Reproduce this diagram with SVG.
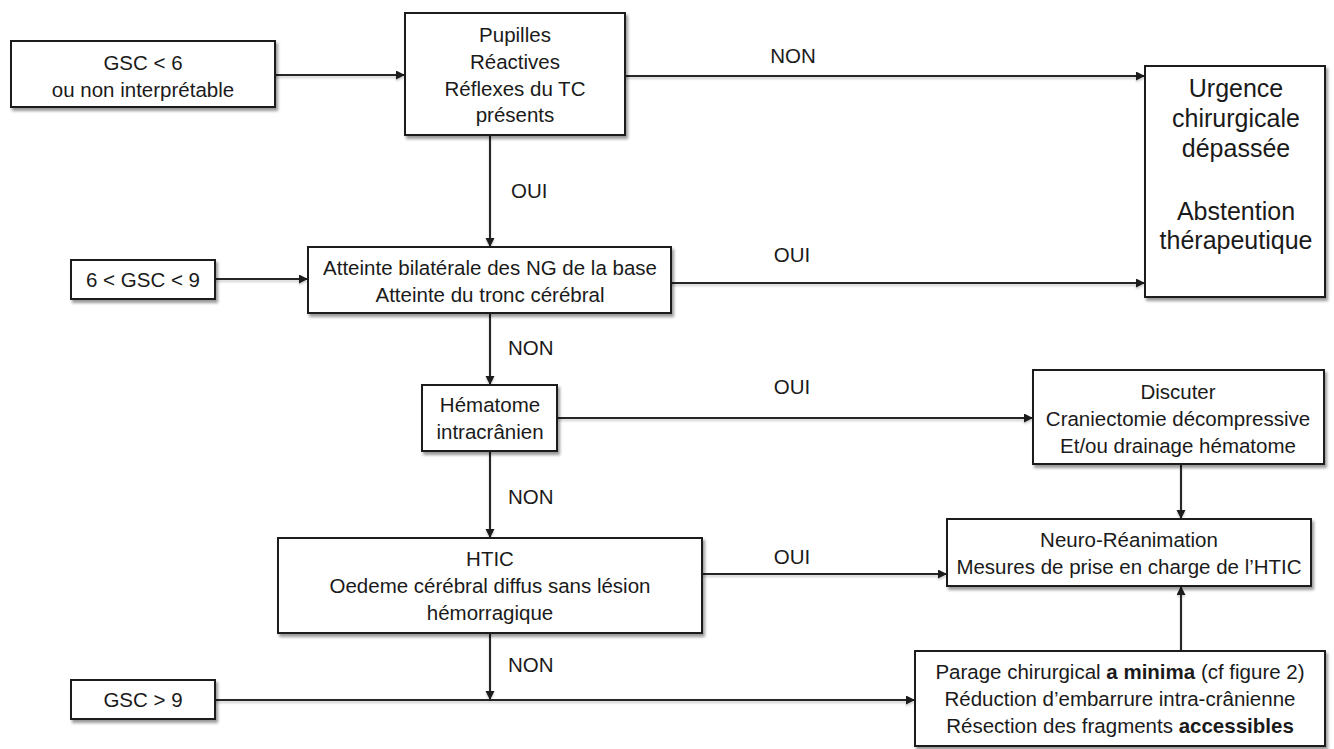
<svg xmlns="http://www.w3.org/2000/svg" width="1334" height="749" viewBox="0 0 1334 749">
  <style>
    .box { fill: #ffffff; stroke: #1a1a1a; stroke-width: 2; filter: url(#shadow); }
    .txt { font-family: "Liberation Sans", Arial, sans-serif; font-size: 20.5px; fill: #1a1a1a; text-anchor: middle; }
    .big { font-size: 25px; }
    .lbl { font-family: "Liberation Sans", Arial, sans-serif; font-size: 20.5px; fill: #1a1a1a; }
    .mid { text-anchor: middle; }
    .b { font-weight: bold; }
    .edge { fill: none; stroke: #262626; stroke-width: 2; }
    .arrow { marker-end: url(#head); }
  </style>
  <defs>
    <filter id="shadow" x="-10%" y="-10%" width="130%" height="140%">
      <feDropShadow dx="2" dy="3" stdDeviation="1.6" flood-color="#000000" flood-opacity="0.4"/>
    </filter>
    <filter id="lineShadow" filterUnits="userSpaceOnUse" x="0" y="0" width="1334" height="749">
      <feDropShadow dx="0" dy="2" stdDeviation="1" flood-color="#000000" flood-opacity="0.2"/>
    </filter>
    <marker id="head" markerUnits="userSpaceOnUse" markerWidth="10" markerHeight="10" refX="9" refY="4.5" orient="auto">
      <path d="M0,0 L9,4.5 L0,9 z" fill="#1a1a1a"/>
    </marker>
  </defs>

  <rect width="1334" height="749" fill="#ffffff"/>

  <!-- connectors -->
  <g id="connectors">
    <g filter="url(#lineShadow)">
      <path class="edge arrow" d="M275,75 L405,75"/>
      <path class="edge arrow" d="M625,76 L1145,76"/>
      <path class="edge arrow" d="M490,135 L490,247"/>
      <path class="edge arrow" d="M215,279 L308,279"/>
      <path class="edge arrow" d="M671,283 L1145,283"/>
      <path class="edge arrow" d="M490,313 L490,385"/>
      <path class="edge arrow" d="M557,418 L1033,418"/>
      <path class="edge arrow" d="M490,451 L490,538"/>
      <path class="edge arrow" d="M1181,464 L1181,519"/>
      <path class="edge arrow" d="M702,574 L947,574"/>
      <path class="edge arrow" d="M490,633 L490,700"/>
      <path class="edge arrow" d="M215,700 L915,700"/>
      <path class="edge arrow" d="M1181,651 L1181,586"/>
    </g>

    <text class="lbl mid" x="793" y="63">NON</text>
    <text class="lbl" x="511" y="198">OUI</text>
    <text class="lbl mid" x="792" y="262">OUI</text>
    <text class="lbl" x="508" y="355">NON</text>
    <text class="lbl mid" x="792" y="394">OUI</text>
    <text class="lbl" x="508" y="504">NON</text>
    <text class="lbl mid" x="792" y="564">OUI</text>
    <text class="lbl" x="508" y="672">NON</text>
  </g>

  <!-- GSC < 6 -->
  <g id="gsc-low">
    <rect class="box" x="11" y="41" width="264" height="66"/>
    <text class="txt" x="143" y="70">GSC &lt; 6</text>
    <text class="txt" x="143" y="97">ou non interprétable</text>
  </g>

  <!-- Pupilles -->
  <g id="pupilles">
    <rect class="box" x="405" y="13" width="220" height="122"/>
    <text class="txt" x="515" y="42">Pupilles</text>
    <text class="txt" x="515" y="69">Réactives</text>
    <text class="txt" x="515" y="96">Réflexes du TC</text>
    <text class="txt" x="515" y="122">présents</text>
  </g>

  <!-- Urgence chirurgicale -->
  <g id="urgence">
    <rect class="box" x="1145" y="66" width="180" height="231"/>
    <text class="txt big" x="1236" y="97">Urgence</text>
    <text class="txt big" x="1236" y="127">chirurgicale</text>
    <text class="txt big" x="1236" y="157">dépassée</text>
    <text class="txt big" x="1236" y="220">Abstention</text>
    <text class="txt big" x="1236" y="249">thérapeutique</text>
  </g>

  <!-- 6 < GSC < 9 -->
  <g id="gsc-mid">
    <rect class="box" x="71" y="260" width="144" height="39"/>
    <text class="txt" x="143" y="287">6 &lt; GSC &lt; 9</text>
  </g>

  <!-- Atteinte -->
  <g id="atteinte">
    <rect class="box" x="308" y="247" width="363" height="66"/>
    <text class="txt" x="490" y="275">Atteinte bilatérale des NG de la base</text>
    <text class="txt" x="490" y="302">Atteinte du tronc cérébral</text>
  </g>

  <!-- Hématome -->
  <g id="hematome">
    <rect class="box" x="422" y="385" width="135" height="66"/>
    <text class="txt" x="490" y="412">Hématome</text>
    <text class="txt" x="490" y="439">intracrânien</text>
  </g>

  <!-- Discuter -->
  <g id="discuter">
    <rect class="box" x="1033" y="370" width="291" height="94"/>
    <text class="txt" x="1178" y="399">Discuter</text>
    <text class="txt" x="1178" y="426">Craniectomie décompressive</text>
    <text class="txt" x="1178" y="453">Et/ou drainage hématome</text>
  </g>

  <!-- HTIC -->
  <g id="htic">
    <rect class="box" x="278" y="538" width="424" height="95"/>
    <text class="txt" x="490" y="566">HTIC</text>
    <text class="txt" x="490" y="593">Oedeme cérébral diffus sans lésion</text>
    <text class="txt" x="490" y="620">hémorragique</text>
  </g>

  <!-- Neuro-Réanimation -->
  <g id="neuro">
    <rect class="box" x="947" y="519" width="364" height="67"/>
    <text class="txt" x="1129" y="547">Neuro-Réanimation</text>
    <text class="txt" x="1129" y="574">Mesures de prise en charge de l’HTIC</text>
  </g>

  <!-- GSC > 9 -->
  <g id="gsc-high">
    <rect class="box" x="71" y="680" width="144" height="39"/>
    <text class="txt" x="143" y="707">GSC &gt; 9</text>
  </g>

  <!-- Parage chirurgical -->
  <g id="parage">
    <rect class="box" x="915" y="651" width="410" height="95"/>
    <text class="txt" x="1120" y="679">Parage chirurgical <tspan class="b">a minima</tspan> (cf figure 2)</text>
    <text class="txt" x="1120" y="706">Réduction d’embarrure intra-crânienne</text>
    <text class="txt" x="1120" y="733">Résection des fragments <tspan class="b">accessibles</tspan></text>
  </g>
</svg>
